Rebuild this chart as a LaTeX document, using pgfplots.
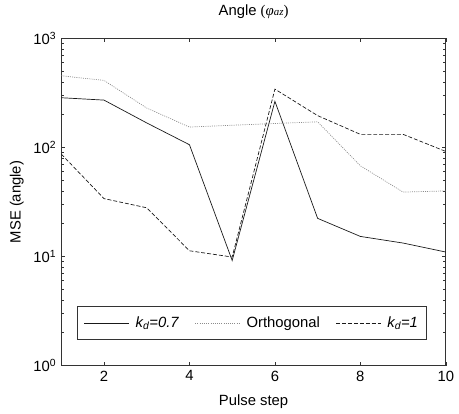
\documentclass[border=0pt]{standalone}
\usepackage{pgfplots}
\pgfplotsset{compat=1.18}
\usepackage{fontspec}
\setmainfont{Liberation Sans}
\newfontfamily\seriffont{Liberation Serif}
\begin{document}
\fontsize{15}{18}\selectfont
\begin{tikzpicture}
\begin{axis}[
  scale only axis,
  width=389pt, height=331pt,
  ymode=log,
  xmin=1, xmax=10, ymin=1, ymax=1000,
  xtick={2,4,6,8,10},
  ytick={1,10,100,1000},
  yticklabels={10\textsuperscript{0},10\textsuperscript{1},10\textsuperscript{2},10\textsuperscript{3}},
  /pgf/number format/assume math mode=true,
  tick label style={font=\fontsize{15}{18}\selectfont},
  label style={font=\fontsize{15}{18}\selectfont},
  tick align=inside,
  major tick length=4pt,
  minor tick length=2.5pt,
  axis line style={line width=0.8pt, black!80},
  tick style={black!80, line width=0.6pt},
  xlabel={Pulse step},
  ylabel={MSE (angle)},
  xlabel style={at={(axis description cs:0.5,-0.109)}, anchor=center},
  ylabel style={at={(axis description cs:-0.116,0.5)}, anchor=center},
  title={Angle {\seriffont\fontsize{15}{18}\selectfont(\textit{φ}{\fontsize{11}{12}\selectfont\textit{az}})}},
  title style={at={(axis description cs:0.5,1.063)}, anchor=center, font=\fontsize{15}{18}\selectfont},
  legend columns=3,
  legend style={at={(axis description cs:0.496,0.13)}, anchor=center,
    draw=black!80, line width=0.8pt, font=\fontsize{15}{18}\selectfont,
    inner xsep=7pt, inner ysep=8pt,
    /tikz/every even column/.append style={column sep=14pt},
    /tikz/every odd column/.append style={column sep=4pt}},
  legend image code/.code={\draw[#1] (0cm,0cm) -- (1.6cm,0cm);},
]
\addplot[black!90, line width=0.7pt] coordinates {
(1,286) (2,272) (3,168) (4,106) (5,9.2) (6,265) (7,22.4) (8,15.3) (9,13.3) (10,11.0)};
\addlegendentry{\textit{k\textsubscript{d}=0.7}}
\addplot[black!45, line width=0.7pt, dash pattern=on 1pt off 1.2pt] coordinates {
(1,455) (2,412) (3,230) (4,154) (5,160) (6,166) (7,172) (8,68) (9,39) (10,40)};
\addlegendentry{Orthogonal}
\addplot[black!90, line width=0.7pt, dash pattern=on 4pt off 2pt] coordinates {
(1,87) (2,34) (3,28) (4,11.3) (5,9.9) (6,343) (7,196) (8,132) (9,132) (10,92)};
\addlegendentry{\textit{k\textsubscript{d}=1}}
\end{axis}
\path ([xshift=-62pt,yshift=-46pt]current axis.south west) rectangle ([xshift=8pt,yshift=33pt]current axis.north east);
\end{tikzpicture}
\end{document}
